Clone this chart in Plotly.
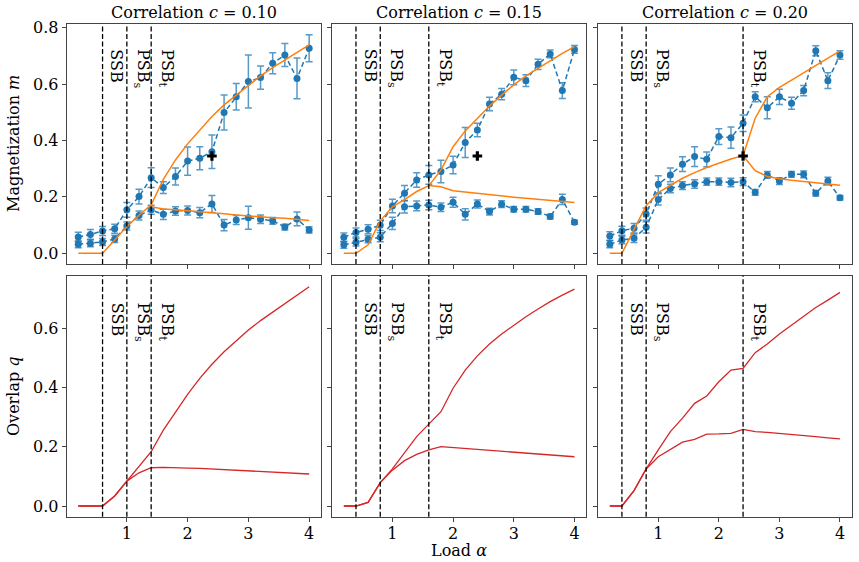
import plotly.graph_objects as go

# ---------------- data ----------------
alpha = [0.2, 0.4, 0.6, 0.8, 1.0, 1.2, 1.4, 1.6, 1.8, 2.0,
         2.2, 2.4, 2.6, 2.8, 3.0, 3.2, 3.4, 3.6, 3.8, 4.0]

titles = ["Correlation <i>c</i> = 0.10", "Correlation <i>c</i> = 0.15", "Correlation <i>c</i> = 0.20"]

# transition points (SSB, PSB_s, PSB_t) per panel
ssb = [0.6, 0.4, 0.4]
psb_s = [1.0, 0.8, 0.8]
psb_t = [1.4, 1.6, 2.4]

# simulation magnetization (two series) with error bars
m_hi_1 = [0.058, 0.067, 0.079, 0.087, 0.154, 0.201, 0.268, 0.233, 0.272, 0.327,
          0.337, 0.360, 0.499, 0.555, 0.609, 0.623, 0.674, 0.703, 0.620, 0.727]
e_hi_1 = [0.017, 0.017, 0.016, 0.016, 0.026, 0.026, 0.035, 0.021, 0.030, 0.050,
          0.041, 0.059, 0.062, 0.047, 0.094, 0.041, 0.037, 0.041, 0.072, 0.048]
m_lo_1 = [0.032, 0.035, 0.040, 0.051, 0.097, 0.134, 0.154, 0.138, 0.150, 0.152,
          0.144, 0.175, 0.100, 0.118, 0.126, 0.121, 0.115, 0.093, 0.122, 0.083]
e_lo_1 = [0.012, 0.012, 0.012, 0.013, 0.014, 0.016, 0.016, 0.018, 0.015, 0.016,
          0.018, 0.030, 0.020, 0.016, 0.041, 0.015, 0.012, 0.010, 0.024, 0.011]

m_hi_2 = [0.057, 0.074, 0.085, 0.099, 0.168, 0.213, 0.260, 0.278, 0.290, 0.313,
          0.393, 0.437, 0.529, 0.564, 0.624, 0.612, 0.670, 0.707, 0.577, 0.723]
e_hi_2 = [0.015, 0.016, 0.016, 0.018, 0.024, 0.027, 0.026, 0.033, 0.040, 0.031,
          0.053, 0.024, 0.024, 0.020, 0.026, 0.021, 0.018, 0.014, 0.028, 0.014]
m_lo_2 = [0.030, 0.039, 0.050, 0.057, 0.106, 0.165, 0.168, 0.171, 0.163, 0.181,
          0.138, 0.175, 0.148, 0.174, 0.156, 0.156, 0.148, 0.130, 0.191, 0.110]
e_lo_2 = [0.012, 0.013, 0.013, 0.016, 0.022, 0.022, 0.017, 0.017, 0.015, 0.018,
          0.020, 0.014, 0.012, 0.012, 0.010, 0.010, 0.010, 0.008, 0.018, 0.007]

m_hi_3 = [0.061, 0.080, 0.089, 0.139, 0.245, 0.278, 0.316, 0.343, 0.333, 0.414,
          0.410, 0.461, 0.555, 0.516, 0.555, 0.532, 0.577, 0.718, 0.612, 0.703]
e_hi_3 = [0.015, 0.016, 0.017, 0.022, 0.030, 0.024, 0.026, 0.035, 0.026, 0.028,
          0.038, 0.029, 0.018, 0.039, 0.027, 0.021, 0.018, 0.018, 0.028, 0.015]
m_lo_3 = [0.032, 0.047, 0.053, 0.092, 0.191, 0.230, 0.240, 0.246, 0.254, 0.254,
          0.251, 0.254, 0.216, 0.278, 0.256, 0.280, 0.280, 0.213, 0.256, 0.197]
e_lo_3 = [0.012, 0.013, 0.015, 0.020, 0.020, 0.015, 0.014, 0.015, 0.013, 0.013,
          0.015, 0.014, 0.010, 0.012, 0.012, 0.010, 0.012, 0.010, 0.014, 0.008]

# theory magnetization (orange): upper branch over all alpha, lower branch from PSB_t
th_hi_1 = [0.0, 0.0, 0.0, 0.047, 0.095, 0.135, 0.172, 0.262, 0.331, 0.388,
           0.437, 0.485, 0.526, 0.561, 0.597, 0.629, 0.658, 0.685, 0.711, 0.739]
th_lo_x_1 = [1.4, 1.6, 1.8, 2.0, 2.2, 2.4, 2.6, 2.8, 3.0, 3.2, 3.4, 3.6, 3.8, 4.0]
th_lo_1 = [0.165, 0.157, 0.154, 0.151, 0.148, 0.144, 0.140, 0.136, 0.132, 0.129,
           0.126, 0.124, 0.120, 0.116]

th_hi_2 = [0.0, 0.0, 0.030, 0.115, 0.165, 0.190, 0.219, 0.240, 0.295, 0.378,
           0.434, 0.479, 0.522, 0.561, 0.597, 0.629, 0.656, 0.685, 0.709, 0.733]
th_lo_x_2 = [1.6, 1.8, 2.0, 2.2, 2.4, 2.6, 2.8, 3.0, 3.2, 3.4, 3.6, 3.8, 4.0]
th_lo_2 = [0.240, 0.236, 0.222, 0.217, 0.213, 0.208, 0.203, 0.199, 0.195, 0.191,
           0.187, 0.183, 0.180]

th_hi_3 = [0.0, 0.0, 0.085, 0.169, 0.215, 0.242, 0.266, 0.286, 0.304, 0.319,
           0.334, 0.346, 0.479, 0.555, 0.588, 0.614, 0.640, 0.664, 0.689, 0.718]
th_lo_x_3 = [2.4, 2.6, 2.8, 3.0, 3.2, 3.4, 3.6, 3.8, 4.0]
th_lo_3 = [0.346, 0.293, 0.272, 0.264, 0.259, 0.254, 0.250, 0.246, 0.241]

# marked point (black plus)
plus_x = [2.4, 2.4, 2.4]
plus_y = [0.345, 0.345, 0.345]

# overlap q (red): two curves
q_hi_1 = [0.0, 0.0, 0.0, 0.034, 0.084, 0.133, 0.183, 0.256, 0.318, 0.376,
          0.430, 0.478, 0.520, 0.557, 0.593, 0.625, 0.653, 0.680, 0.708, 0.739]
q_lo_1 = [0.0, 0.0, 0.0, 0.034, 0.084, 0.112, 0.129, 0.130, 0.130, 0.128,
          0.127, 0.125, 0.123, 0.121, 0.119, 0.117, 0.116, 0.114, 0.112, 0.108]
q_hi_2 = [0.0, 0.0, 0.012, 0.079, 0.125, 0.181, 0.234, 0.276, 0.318, 0.397,
          0.458, 0.506, 0.546, 0.580, 0.610, 0.638, 0.664, 0.689, 0.711, 0.731]
q_lo_2 = [0.0, 0.0, 0.012, 0.079, 0.121, 0.153, 0.174, 0.189, 0.200, 0.197,
          0.194, 0.191, 0.188, 0.185, 0.181, 0.178, 0.175, 0.172, 0.169, 0.166]
q_hi_3 = [0.0, 0.0, 0.052, 0.125, 0.189, 0.251, 0.296, 0.346, 0.371, 0.419,
          0.458, 0.464, 0.517, 0.546, 0.580, 0.610, 0.640, 0.669, 0.694, 0.720]
q_lo_3 = [0.0, 0.0, 0.052, 0.125, 0.166, 0.192, 0.215, 0.225, 0.242, 0.243,
          0.245, 0.258, 0.251, 0.248, 0.245, 0.240, 0.237, 0.234, 0.230, 0.226]

x_ticks = [1, 2, 3, 4]
m_ticks = [0.0, 0.2, 0.4, 0.6, 0.8]
q_ticks = [0.0, 0.2, 0.4, 0.6]

# ---------------- styling ----------------
W, H = 859, 562
FONT = "DejaVu Serif"
FS = 16
BLUE = "#1f77b4"
ORANGE = "#ff7f0e"
RED = "#d62728"
FRAME = "#444444"

col_px = [(66.7, 320.7), (332.3, 586.0), (598.3, 851.5)]
row_px = [(24.0, 264.0), (275.5, 516.7)]
x_range = [0.01, 4.19]
m_range = [-0.038, 0.813]
q_range = [-0.036, 0.777]

m_hi = [m_hi_1, m_hi_2, m_hi_3]
e_hi = [e_hi_1, e_hi_2, e_hi_3]
m_lo = [m_lo_1, m_lo_2, m_lo_3]
e_lo = [e_lo_1, e_lo_2, e_lo_3]
th_hi = [th_hi_1, th_hi_2, th_hi_3]
th_lo_x = [th_lo_x_1, th_lo_x_2, th_lo_x_3]
th_lo = [th_lo_1, th_lo_2, th_lo_3]
q_hi = [q_hi_1, q_hi_2, q_hi_3]
q_lo = [q_lo_1, q_lo_2, q_lo_3]

fig = go.Figure()
layout = dict(
    width=W, height=H,
    margin=dict(l=0, r=0, t=0, b=0),
    paper_bgcolor="white", plot_bgcolor="white",
    showlegend=False,
    font=dict(family=FONT, size=FS, color="black"),
)
shapes = []
annotations = []


def ax_name(k):
    return "" if k == 1 else str(k)


for r in range(2):
    for c in range(3):
        k = r * 3 + c + 1
        xa = "x" + ax_name(k)
        ya = "y" + ax_name(k)
        x0, x1 = col_px[c]
        y0, y1 = row_px[r]
        common = dict(showline=True, mirror=True, linecolor=FRAME, linewidth=1,
                      ticks="outside", ticklen=4, tickwidth=1, tickcolor=FRAME,
                      showgrid=False, zeroline=False, automargin=False,
                      tickfont=dict(family=FONT, size=FS, color="black"))
        layout["xaxis" + ax_name(k)] = dict(
            domain=[x0 / W, x1 / W], range=x_range, anchor=ya,
            tickmode="array", tickvals=x_ticks,
            ticktext=[str(t) for t in x_ticks],
            showticklabels=(r == 1), ticklabelstandoff=-2, **common)
        yt = m_ticks if r == 0 else q_ticks
        layout["yaxis" + ax_name(k)] = dict(
            domain=[1 - y1 / H, 1 - y0 / H],
            range=m_range if r == 0 else q_range, anchor=xa,
            tickmode="array", tickvals=yt,
            ticktext=["%.1f" % t for t in yt],
            showticklabels=(c == 0), **common)

        if r == 0:
            fig.add_trace(go.Scatter(
                x=alpha, y=m_hi[c], xaxis=xa, yaxis=ya, mode="lines+markers",
                line=dict(color=BLUE, width=1.5, dash="5px,3px"),
                marker=dict(color=BLUE, size=7),
                error_y=dict(type="data", array=e_hi[c], color="rgba(31,119,180,0.75)",
                             thickness=1.5, width=3.5)))
            fig.add_trace(go.Scatter(
                x=alpha, y=m_lo[c], xaxis=xa, yaxis=ya, mode="lines+markers",
                line=dict(color=BLUE, width=1.5, dash="5px,3px"),
                marker=dict(color=BLUE, size=7),
                error_y=dict(type="data", array=e_lo[c], color="rgba(31,119,180,0.75)",
                             thickness=1.5, width=3.5)))
            fig.add_trace(go.Scatter(
                x=alpha, y=th_hi[c], xaxis=xa, yaxis=ya, mode="lines",
                line=dict(color=ORANGE, width=1.5)))
            fig.add_trace(go.Scatter(
                x=th_lo_x[c], y=th_lo[c], xaxis=xa, yaxis=ya, mode="lines",
                line=dict(color=ORANGE, width=1.5)))
            fig.add_trace(go.Scatter(
                x=[plus_x[c]], y=[plus_y[c]], xaxis=xa, yaxis=ya, mode="markers",
                marker=dict(symbol="cross", color="black", size=8,
                            line=dict(width=0))))
        else:
            fig.add_trace(go.Scatter(
                x=alpha, y=q_hi[c], xaxis=xa, yaxis=ya, mode="lines",
                line=dict(color=RED, width=1.3)))
            fig.add_trace(go.Scatter(
                x=alpha, y=q_lo[c], xaxis=xa, yaxis=ya, mode="lines",
                line=dict(color=RED, width=1.3)))

        # vertical transition lines and labels
        labels = ["SSB", "PSB<sub>s</sub>", "PSB<sub>t</sub>"]
        for xv, lab in zip([ssb[c], psb_s[c], psb_t[c]], labels):
            shapes.append(dict(type="line", xref=xa, yref=ya + " domain",
                               x0=xv, x1=xv, y0=0, y1=1,
                               line=dict(color="black", width=1.3, dash="5px,2.5px")))
            annotations.append(dict(
                xref=xa, yref=ya + " domain", x=xv, y=0.905 if r == 0 else 0.897,
                text=lab, textangle=90, showarrow=False,
                xanchor="left", yanchor="top", xshift=3,
                font=dict(family=FONT, size=FS, color="black")))

# subplot titles
for c in range(3):
    x0, x1 = col_px[c]
    annotations.append(dict(
        xref="paper", yref="paper", x=(x0 + x1) / 2 / W, y=1 - 13 / H,
        text=titles[c], showarrow=False, xanchor="center", yanchor="middle",
        font=dict(family=FONT, size=FS, color="black")))

# axis labels
annotations.append(dict(
    xref="paper", yref="paper", x=13 / W, y=1 - 144 / H,
    text="Magnetization <i>m</i>", textangle=-90, showarrow=False,
    xanchor="center", yanchor="middle",
    font=dict(family=FONT, size=FS, color="black")))
annotations.append(dict(
    xref="paper", yref="paper", x=13 / W, y=1 - 396 / H,
    text="Overlap <i>q</i>", textangle=-90, showarrow=False,
    xanchor="center", yanchor="middle",
    font=dict(family=FONT, size=FS, color="black")))
annotations.append(dict(
    xref="paper", yref="paper", x=(col_px[1][0] + col_px[1][1]) / 2 / W, y=0,
    text="Load <i>α</i>", showarrow=False,
    xanchor="center", yanchor="bottom", yshift=0,
    font=dict(family=FONT, size=FS, color="black")))

layout["shapes"] = shapes
layout["annotations"] = annotations
fig.update_layout(**layout)

fig.write_html("out.html")
